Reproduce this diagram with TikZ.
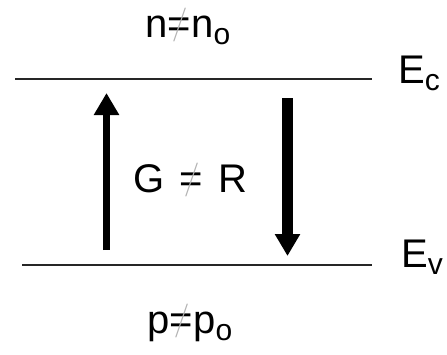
\documentclass[tikz,border=0pt]{standalone}
\usepackage{fontspec}
\usepackage{graphicx}
\setsansfont{Liberation Sans}
\usetikzlibrary{arrows.meta}
\newcommand{\neqg}{\ooalign{=\cr\hidewidth\raisebox{3.5pt}{\textcolor{gray!60}{\rmfamily\fontsize{34}{34}\selectfont /}}\hidewidth\cr}}
\newcommand{\subtxt}[1]{\raisebox{-7pt}{\fontsize{30}{30}\selectfont #1}}
\tikzset{
  lbl/.style={inner sep=0pt, font=\sffamily\fontsize{40}{40}\selectfont},
  level/.style={line width=1.2pt, black!85},
  trans/.style={line width=#1, -{Triangle[length=22pt,width=24pt]}},
}
\begin{document}
\begin{tikzpicture}[x=1pt,y=-1pt]
\useasboundingbox (0,0) rectangle (447,354);
\coordinate (ecl) at (15,79);
\coordinate (ecr) at (372,79);
\coordinate (evl) at (22,265);
\coordinate (evr) at (372,265);
\draw[level] (ecl) -- (ecr);
\draw[level] (evl) -- (evr);
\node[lbl, anchor=base west] (ec) at (398,83) {E\subtxt{c}};
\node[lbl, anchor=base west] (ev) at (401,267) {E\subtxt{v}};
\node[lbl, anchor=base] (n) at (188,37) {n\neqg n\subtxt{o}};
\node[lbl, anchor=base] (p) at (190,333) {p\neqg p\subtxt{o}};
\node[lbl, anchor=base] (g) at (190.5,192) {G\hspace{4pt} \neqg{} \hspace{4pt}R};
\coordinate (ua) at (106.5,250);
\coordinate (ub) at (106.5,93);
\coordinate (da) at (287.5,98);
\coordinate (db) at (287.5,256);
\draw[trans=7pt] (ua) -- (ub);
\draw[trans=11pt] (da) -- (db);
\end{tikzpicture}
\end{document}
